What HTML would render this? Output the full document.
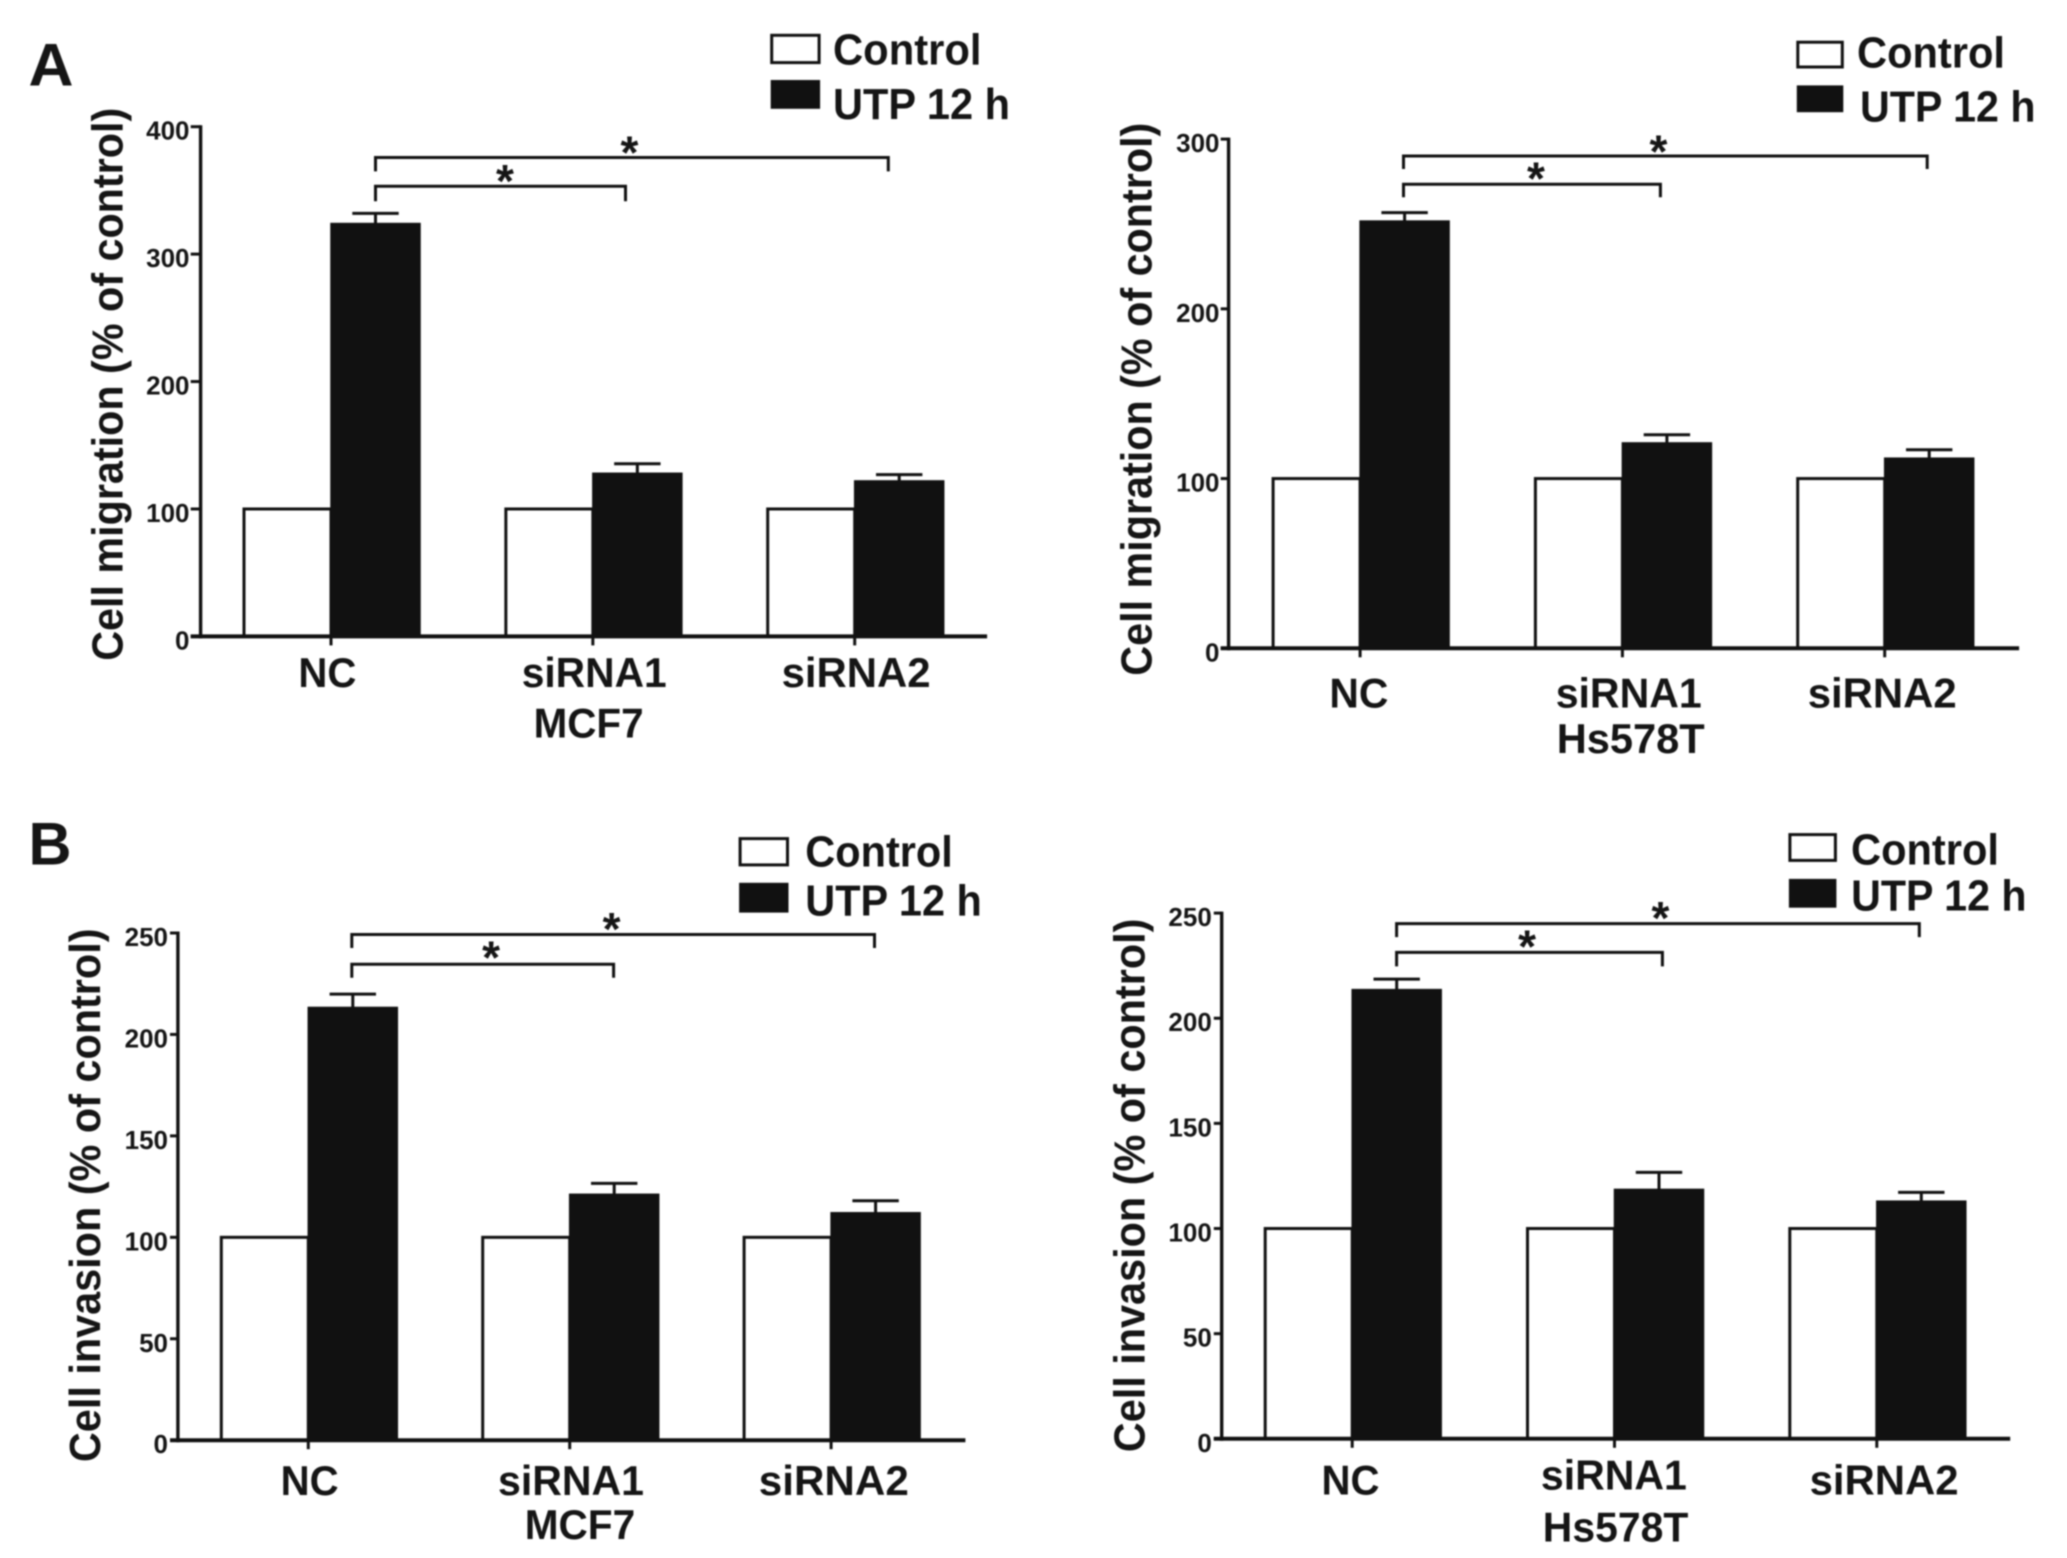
<!DOCTYPE html>
<html lang="en">
<head>
<meta charset="utf-8">
<title>Cell migration and invasion bar charts</title>
<style>
html,body{margin:0;padding:0;background:#fff;}
body{width:2067px;height:1558px;overflow:hidden;}
svg{display:block;filter:blur(0.9px);}
text{font-family:"Liberation Sans",Arial,sans-serif;font-weight:700;fill:#151515;}
</style>
</head>
<body>
<svg id="figure" width="2067" height="1558" viewBox="0 0 2067 1558" xmlns="http://www.w3.org/2000/svg">
  <rect x="0" y="0" width="2067" height="1558" fill="#fff"/>
  <text x="28.5" y="85.5" font-size="60" textLength="45" lengthAdjust="spacingAndGlyphs">A</text>
  <text x="28.5" y="864.6" font-size="60" textLength="43" lengthAdjust="spacingAndGlyphs">B</text>
</svg>
<script>
// ---- Data ----
const categories = ['NC', 'siRNA1', 'siRNA2'];
const legendLabels = ['Control', 'UTP 12 h'];

const migrationMcf7Control = [100, 100, 100];
const migrationMcf7Utp = [324, 128, 122];
const migrationMcf7ErrTop = [332, 135.5, 127];
const migrationMcf7Ticks = [0, 100, 200, 300, 400];

const migrationHsControl = [100, 100, 100];
const migrationHsUtp = [251.7, 121, 112];
const migrationHsErrTop = [256.7, 125.8, 117];
const migrationHsTicks = [0, 100, 200, 300];

const invasionMcf7Control = [100, 100, 100];
const invasionMcf7Utp = [213.3, 121.2, 112.1];
const invasionMcf7ErrTop = [219.9, 126.6, 118];
const invasionMcf7Ticks = [0, 50, 100, 150, 200, 250];

const invasionHsControl = [100, 100, 100];
const invasionHsUtp = [213.6, 118.6, 113];
const invasionHsErrTop = [218.6, 126.7, 117.2];
const invasionHsTicks = [0, 50, 100, 150, 200, 250];

// ---- Panel layout ----
const panels = [
  {
    id: 'migration-mcf7', title: 'Cell migration (% of control)', cell: 'MCF7',
    control: migrationMcf7Control, utp: migrationMcf7Utp, err: migrationMcf7ErrTop, ticks: migrationMcf7Ticks,
    axisX: 200.6, axisLeft: 190.7, axisRight: 987.1, base: 636.4, top: 126.7,
    firstBlack: 331, pitch: 261.85, whiteW: 87, blackW: 89,
    tickLabelX: 189.5,
    titleX: 122.5, titleY: 660.8, titleLen: 553,
    catLabels: [[298.4, 687, 58], [521.7, 687, 145], [781.6, 687, 149]], cellLabel: [533.6, 737.3, 110],
    upper: { y: 157.5, x1: 375.5, x2: 888.3, drop: 13.9, starX: 629.4, starY: 146.6 },
    lower: { y: 186.3, x1: 375.5, x2: 625.5, drop: 15, starX: 504.9, starY: 174.9 },
    legend: { x: 771.7, w: 47.4, y1: 35.3, h1: 27.3, y2: 81, h2: 26.8, tx1: 833, tb1: 64.6, tl1: 148.5, tx2: 833, tb2: 119.2, tl2: 177 }
  },
  {
    id: 'migration-hs578t', title: 'Cell migration (% of control)', cell: 'Hs578T',
    control: migrationHsControl, utp: migrationHsUtp, err: migrationHsErrTop, ticks: migrationHsTicks,
    axisX: 1228.6, axisLeft: 1220.7, axisRight: 2019.1, base: 648.3, top: 139.1,
    firstBlack: 1360.1, pitch: 262.3, whiteW: 87, blackW: 89,
    tickLabelX: 1219.5,
    titleX: 1151.6, titleY: 675.7, titleLen: 553,
    catLabels: [[1329.4, 707.5, 59], [1555.7, 707.5, 146], [1807.7, 707.5, 149]], cellLabel: [1556.7, 753.2, 148],
    upper: { y: 156, x1: 1403.5, x2: 1927.2, drop: 13, starX: 1658.5, starY: 145.6 },
    lower: { y: 184.3, x1: 1403.5, x2: 1660.4, drop: 13, starX: 1536, starY: 172.4 },
    legend: { x: 1797.8, w: 44.5, y1: 42.2, h1: 24.8, y2: 86.4, h2: 24.8, tx1: 1857, tb1: 67.6, tl1: 148, tx2: 1860, tb2: 121.7, tl2: 175.5 }
  },
  {
    id: 'invasion-mcf7', title: 'Cell invasion (% of control)', cell: 'MCF7',
    control: invasionMcf7Control, utp: invasionMcf7Utp, err: invasionMcf7ErrTop, ticks: invasionMcf7Ticks,
    axisX: 177.9, axisLeft: 170, axisRight: 965.4, base: 1440.2, top: 933,
    firstBlack: 308.3, pitch: 261.4, whiteW: 87, blackW: 89,
    tickLabelX: 168,
    titleX: 99.8, titleY: 1462.1, titleLen: 533.6,
    catLabels: [[280.6, 1494.9, 58], [498, 1494.9, 146], [758.8, 1494.9, 150]], cellLabel: [524.7, 1539.1, 110.5],
    upper: { y: 934.5, x1: 351.8, x2: 874.5, drop: 13.5, starX: 611.6, starY: 923.1 },
    lower: { y: 964.3, x1: 351.8, x2: 613.6, drop: 13.5, starX: 491.1, starY: 951.4 },
    legend: { x: 740.1, w: 47.4, y1: 838.6, h1: 26.3, y2: 883.8, h2: 27.8, tx1: 805.3, tb1: 866.4, tl1: 147.5, tx2: 805.3, tb2: 915.6, tl2: 176.5 }
  },
  {
    id: 'invasion-hs578t', title: 'Cell invasion (% of control)', cell: 'Hs578T',
    control: invasionHsControl, utp: invasionHsUtp, err: invasionHsErrTop, ticks: invasionHsTicks,
    axisX: 1221.7, axisLeft: 1213.8, axisRight: 2010.2, base: 1438.8, top: 913.1,
    firstBlack: 1352.2, pitch: 262.3, whiteW: 87, blackW: 89,
    tickLabelX: 1211.8,
    titleX: 1144.7, titleY: 1452.2, titleLen: 533.6,
    catLabels: [[1321.5, 1494.4, 58], [1540.9, 1489.4, 146], [1809.6, 1494.4, 149]], cellLabel: [1542.8, 1541.6, 145.5],
    upper: { y: 923.6, x1: 1396.6, x2: 1919.3, drop: 13.5, starX: 1660.4, starY: 912.1 },
    lower: { y: 952.4, x1: 1396.6, x2: 1662.4, drop: 14, starX: 1527.1, starY: 940.5 },
    legend: { x: 1789.9, w: 45.5, y1: 834.6, h1: 25.8, y2: 879.9, h2: 26.8, tx1: 1851, tb1: 864.4, tl1: 148, tx2: 1851.1, tb2: 910.7, tl2: 175.5 }
  }
];

const INK = '#111111';
const NS = 'http://www.w3.org/2000/svg';
const svg = document.getElementById('figure');

function make(parent, tag, name, props) {
  const el = document.createElementNS(NS, tag);
  
  
  for (const k in props) el.setAttribute(k, props[k]);
  parent.appendChild(el);
  return el;
}
function line(parent, name, x1, y1, x2, y2, w) {
  return make(parent, 'line', name, { x1: x1, y1: y1, x2: x2, y2: y2, stroke: INK, 'stroke-width': w });
}
function label(parent, name, str, x, y, size, len, anchor) {
  const props = { x: x, y: y, 'font-size': size };
  if (len) { props.textLength = len; props.lengthAdjust = 'spacingAndGlyphs'; }
  if (anchor) props['text-anchor'] = anchor;
  const t = make(parent, 'text', name, props);
  t.textContent = str;
  return t;
}
// Axis functions
function yScale(p, v) {
  const max = p.ticks[p.ticks.length - 1];
  return p.base - (v / max) * (p.base - p.top);
}
function blackLeft(p, i) { return p.firstBlack + i * p.pitch; }
function whiteLeft(p, i) { return blackLeft(p, i) - p.whiteW; }

function drawBracket(g, name, b) {
  const d = 'M' + b.x1 + ' ' + (b.y + b.drop) + 'V' + b.y + 'H' + b.x2 + 'V' + (b.y + b.drop);
  make(g, 'path', name, { d: d, fill: 'none', stroke: INK, 'stroke-width': 3 });
  label(g, name + '-star', '*', b.starX, b.starY + 22, 46, 0, 'middle');
}

panels.forEach(function (p) {
  const g = make(svg, 'g', 'chart-' + p.id, {});

  // bars: control first, then UTP on top
  categories.forEach(function (c, i) {
    const y = yScale(p, p.control[i]);
    make(g, 'rect', 'bar-control-' + c, {
      x: whiteLeft(p, i), y: y, width: p.whiteW, height: p.base - y,
      fill: '#fff', stroke: INK, 'stroke-width': 3
    });
  });
  categories.forEach(function (c, i) {
    const y = yScale(p, p.utp[i]);
    const x = blackLeft(p, i);
    const cx = x + p.blackW / 2;
    const ey = yScale(p, p.err[i]);
    line(g, 'error-stem-' + c, cx, y, cx, ey, 3);
    line(g, 'error-cap-' + c, cx - 23.2, ey, cx + 23.2, ey, 3);
    make(g, 'rect', 'bar-utp-' + c, {
      x: x, y: y, width: p.blackW, height: p.base - y,
      fill: INK, stroke: INK, 'stroke-width': 1.5
    });
    line(g, 'x-tick-' + c, x, p.base, x, p.base + 9, 3);
    const pos = p.catLabels[i];
    label(g, 'x-label-' + c, c, pos[0], pos[1], 42, pos[2]);
  });

  // axes
  line(g, 'y-axis', p.axisX, p.top - 1.5, p.axisX, p.base + 2, 3.4);
  line(g, 'x-axis', p.axisLeft, p.base, p.axisRight, p.base, 4);
  p.ticks.forEach(function (t) {
    const y = yScale(p, t);
    line(g, 'y-tick-' + t, p.axisLeft, y, p.axisX, y, 3);
    label(g, 'y-tick-label-' + t, String(t), p.tickLabelX, y + 13, 26, 0, 'end');
  });

  // y title
  const title = label(g, 'y-axis-title', p.title, 0, 0, 44, p.titleLen);
  title.setAttribute('transform', 'translate(' + p.titleX + ' ' + p.titleY + ') rotate(-90)');

  // cell line label
  const cl = p.cellLabel;
  label(g, 'cell-line-label', p.cell, cl[0], cl[1], 42, cl[2]);

  // significance brackets
  drawBracket(g, 'bracket-upper', p.upper);
  drawBracket(g, 'bracket-lower', p.lower);

  // legend
  const L = p.legend;
  make(g, 'rect', 'legend-swatch-control', {
    x: L.x, y: L.y1, width: L.w, height: L.h1, fill: '#fff', stroke: INK, 'stroke-width': 3
  });
  make(g, 'rect', 'legend-swatch-utp', {
    x: L.x, y: L.y2, width: L.w, height: L.h2, fill: INK, stroke: INK, 'stroke-width': 2
  });
  label(g, 'legend-label-control', legendLabels[0], L.tx1, L.tb1, 44, L.tl1);
  label(g, 'legend-label-utp', legendLabels[1], L.tx2, L.tb2, 44, L.tl2);
});
</script>
</body>
</html>
